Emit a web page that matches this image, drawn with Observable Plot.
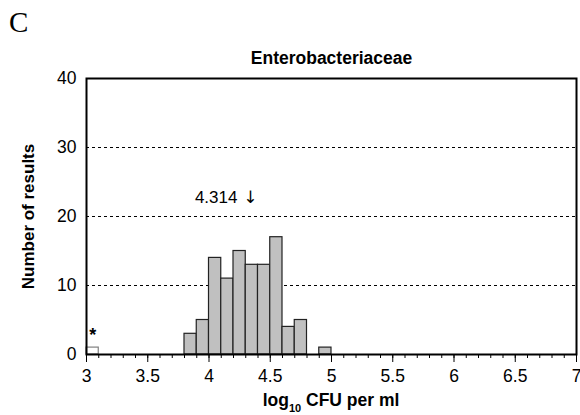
<!DOCTYPE html>
<html>
<head>
<meta charset="utf-8">
<script src="https://cdn.jsdelivr.net/npm/d3@7"></script>
<script src="https://cdn.jsdelivr.net/npm/@observablehq/plot@0.6"></script>
<style>
  html, body { margin: 0; padding: 0; background: #fff; }
  svg { display: block; }
</style>
</head>
<body>
<div id="chart"></div>
<script>
// Histogram bins (lower edge, log10 CFU per ml) and counts
const binStarts = [3.0, 3.8, 3.9, 4.0, 4.1, 4.2, 4.3, 4.4, 4.5, 4.6, 4.7, 4.9];
const counts    = [1,   3,   5,   14,  11,  15,  13,  13,  17,  4,   5,   1];
const binWidth = 0.1;
const censored = [true, false, false, false, false, false, false, false, false, false, false, false];

const majorTicks = [3, 3.5, 4, 4.5, 5, 5.5, 6, 6.5, 7];
const minorTicks = d3.range(30, 71).map(d => d / 10);
const yTicks = [0, 10, 20, 30, 40];
const gridValues = [10, 20, 30];

const meanValue = 4.314;
const meanLabel = "4.314";
const meanLabelY = 22.7;

const title = "Enterobacteriaceae";
const panelLetter = "C";
const yLabel = "Number of results";

const bins = binStarts.map((x, i) => ({x1: x, x2: +(x + binWidth).toFixed(2), count: counts[i], censored: censored[i]}));
const FONT = "'Liberation Sans', Arial, Helvetica, sans-serif";

const chart = Plot.plot({
  width: 580,
  height: 415,
  marginLeft: 86,
  marginRight: 4,
  marginTop: 78,
  marginBottom: 61,
  style: {fontFamily: FONT, fontSize: "17px", color: "#000", background: "#fff", overflow: "visible"},
  x: {domain: [3, 7]},
  y: {domain: [0, 40]},
  marks: [
    Plot.gridY(gridValues, {stroke: "#000", strokeOpacity: 1, strokeWidth: 1, strokeDasharray: "3,3"}),
    Plot.rectY(bins, {
      x1: "x1", x2: "x2", y: "count",
      fill: d => d.censored ? "#fff" : "#c0c0c0",
      stroke: d => d.censored ? "#808080" : "#222",
      strokeWidth: 1.2
    }),
    Plot.frame({stroke: "#000", strokeWidth: 2}),
    Plot.axisX({ticks: minorTicks, tickSize: 4, tickWidth: 1.2, text: null, label: null}),
    Plot.axisX({ticks: majorTicks, tickSize: 8, tickWidth: 1.5, tickPadding: 7, tickFormat: d => String(d), label: null, fontSize: 17.5}),
    Plot.axisY({ticks: yTicks, tickSize: 0, tickPadding: 10, label: null, fontSize: 17.5}),
    // asterisk over censored bin
    Plot.text(bins.filter(d => d.censored), {
      x: d => (d.x1 + d.x2) / 2, y: "count", text: () => "*",
      dy: -12, fontSize: 18, fontWeight: "bold", lineAnchor: "middle"
    }),
    // mean annotation
    Plot.text([meanValue], {x: d => d, y: () => meanLabelY, text: () => meanLabel, textAnchor: "end", dx: -10, fontSize: 17, lineAnchor: "middle"}),
    Plot.text([meanValue], {x: d => d, y: () => meanLabelY, text: () => "↓", textAnchor: "middle", dx: 3, fontSize: 17, fontFamily: "'DejaVu Sans', sans-serif", fill: "#000", lineAnchor: "middle"}),
    // title
    Plot.text([title], {frameAnchor: "top", text: d => d, dy: -20, fontSize: 17.5, fontWeight: "bold", lineAnchor: "middle"}),
    // y label
    Plot.text([yLabel], {frameAnchor: "left", text: d => d, dx: -58, rotate: -90, textAnchor: "middle", fontSize: 17, fontWeight: "bold", lineAnchor: "middle"})
  ]
});

const svg = d3.select(chart);
// panel letter
svg.append("text")
  .attr("x", 9).attr("y", 32)
  .attr("text-anchor", "start")
  .attr("font-family", "'Liberation Serif', 'Times New Roman', serif")
  .attr("font-size", 29)
  .attr("fill", "#000")
  .text(panelLetter);
// x label with subscript
const xl = svg.append("text")
  .attr("x", 331).attr("y", 406)
  .attr("text-anchor", "middle")
  .attr("font-family", FONT)
  .attr("font-size", 17.5)
  .attr("font-weight", "bold")
  .attr("fill", "#000");
xl.append("tspan").text("log");
xl.append("tspan").attr("font-size", 11).attr("dy", 6).text("10");
xl.append("tspan").attr("dy", -6).text(" CFU per ml");

document.getElementById("chart").appendChild(chart);
</script>
</body>
</html>
